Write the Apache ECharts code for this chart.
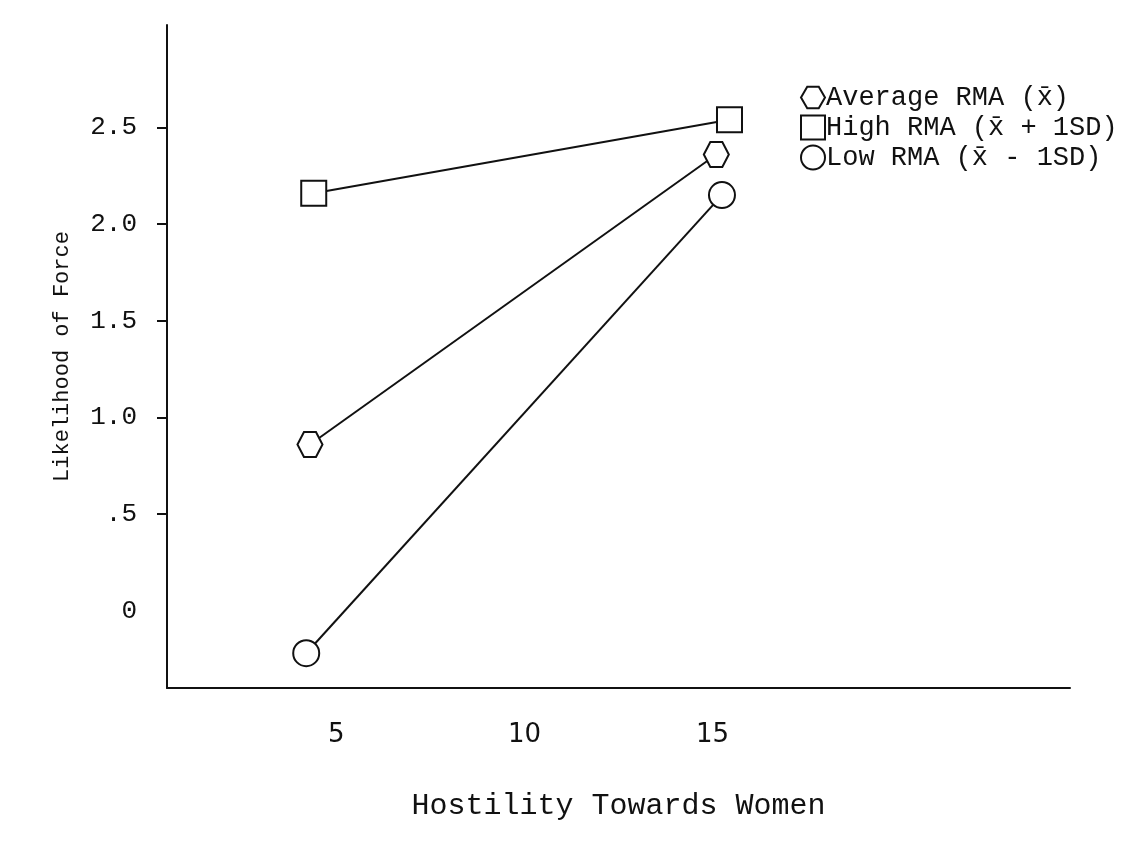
<!DOCTYPE html>
<html>
<head>
<meta charset="utf-8">
<script src="https://cdn.jsdelivr.net/npm/echarts@6/dist/echarts.min.js"></script>
<style>html,body{margin:0;padding:0;background:#fff}#c{width:1126px;height:849px}</style>
</head>
<body>
<div id="c"></div>
<script>
const seriesNames = ['Average RMA (x\u0304)', 'High RMA (x\u0304 + 1SD)', 'Low RMA (x\u0304 - 1SD)'];
const avgX = [4.3, 15.1];
const avgY = [0.86, 2.36];
const highX = [4.4, 15.45];
const highY = [2.16, 2.54];
const lowX = [4.2, 15.25];
const lowY = [-0.22, 2.15];
const xTicks = [5, 10, 15];
const yTicks = [0, 0.5, 1.0, 1.5, 2.0, 2.5];
const yTickLabels = ['0', '.5', '1.0', '1.5', '2.0', '2.5'];

const hexPath = 'path://M0,5 L2.6,0.5 L7.4,0.5 L10,5 L7.4,9.5 L2.6,9.5 Z';
const symbols = [hexPath, 'rect', 'circle'];
const sizes = [25, 25, 26];
const xs = [avgX, highX, lowX];
const ys = [avgY, highY, lowY];
const font = '"Liberation Mono", "DejaVu Sans Mono", monospace';

const chart = echarts.init(document.getElementById('c'));
chart.setOption({
  animation: false,
  backgroundColor: '#fff',
  grid: {left: 167, right: 56, top: 25, bottom: 161},
  legend: {
    orient: 'vertical', left: 795, top: 79, itemGap: 3,
    itemWidth: 24, itemHeight: 24,
    textStyle: {fontFamily: font, fontSize: 27, color: '#111', padding: [0, 0, 0, -4]},
    data: seriesNames.map((n, i) => ({name: n, icon: symbols[i]})),
    itemStyle: {color: '#fff', borderColor: '#111', borderWidth: 2}
  },
  xAxis: {
    type: 'value', min: 0.5, max: 24.5,
    name: 'Hostility Towards Women', nameLocation: 'middle', nameGap: 103,
    nameTextStyle: {fontFamily: font, fontSize: 30, color: '#111'},
    axisLine: {onZero: false, lineStyle: {color: '#111', width: 2}},
    axisTick: {show: false},
    splitLine: {show: false},
    axisLabel: {customValues: xTicks, margin: 34, fontFamily: '"DejaVu Sans", sans-serif', fontSize: 26, color: '#111'}
  },
  yAxis: {
    type: 'value', min: -0.4, max: 3.03,
    name: 'Likelihood of Force', nameLocation: 'middle', nameGap: 94, nameRotate: 90,
    nameTextStyle: {fontFamily: font, fontSize: 22, color: '#111'},
    axisLine: {onZero: false, lineStyle: {color: '#111', width: 2}},
    axisTick: {show: true, customValues: yTicks.slice(1), length: 10, lineStyle: {color: '#111', width: 2}},
    splitLine: {show: false},
    axisLabel: {
      customValues: yTicks, margin: 30, fontFamily: font, fontSize: 26, color: '#111',
      formatter: v => { const i = yTicks.findIndex(t => Math.abs(t - v) < 1e-6); return i >= 0 ? yTickLabels[i] : ''; }
    }
  },
  series: seriesNames.map((n, i) => ({
    name: n, type: 'line',
    data: xs[i].map((x, j) => [x, ys[i][j]]),
    symbol: symbols[i], symbolSize: sizes[i],
    showAllSymbol: true,
    lineStyle: {color: '#111', width: 2},
    itemStyle: {color: '#fff', borderColor: '#111', borderWidth: 2}
  }))
});
</script>
</body>
</html>
